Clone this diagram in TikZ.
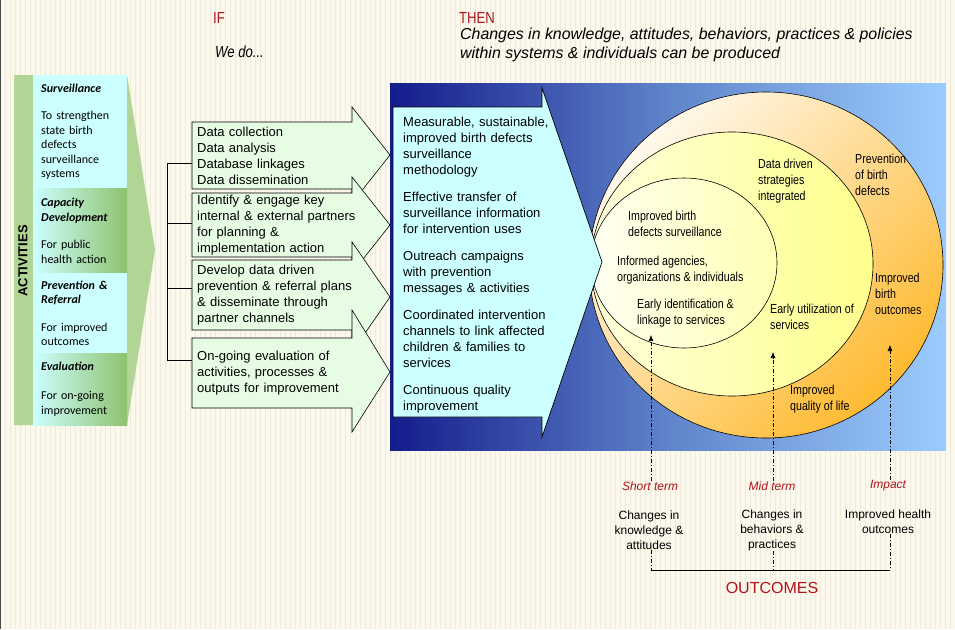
\documentclass[tikz,border=0pt]{standalone}
\usepackage{fontspec}
\setmainfont{Liberation Sans}
\newfontfamily\calibri{Carlito}
\newfontfamily\narrowsans[FakeStretch=0.82]{Liberation Sans}
\usepackage{xcolor}
\usetikzlibrary{shapes,arrows,arrows.meta,positioning,calc}
\definecolor{paper}{HTML}{FBF8EE}
\definecolor{papergrid}{HTML}{F2EAD6}
\definecolor{cyanbox}{HTML}{CCFFFF}
\definecolor{actgreen}{HTML}{8DC26C}
\definecolor{colgreen}{HTML}{B0D595}
\definecolor{ifgreen}{HTML}{E6FDE4}
\definecolor{navyb}{HTML}{141C8C}
\definecolor{midb}{HTML}{5F84CA}
\definecolor{skyb}{HTML}{9CCCFF}
\definecolor{ringorange}{HTML}{FFBA30}
\definecolor{ringcream}{HTML}{FFF8EC}
\definecolor{ringyellow}{HTML}{FFFF8C}
\definecolor{ringlight}{HTML}{FFFFDC}
\definecolor{coreyellow}{HTML}{FFFFB4}
\definecolor{corelight}{HTML}{FFFFF2}
\definecolor{headred}{HTML}{A8181E}
\definecolor{termred}{HTML}{B0141C}
\newcommand{\acthd}[1]{\textbf{\textit{#1}}}

\begin{document}
\begin{tikzpicture}[x=1pt, y=-1pt, >=stealth]
        % Styles
        \tikzstyle{actbox} = [rectangle, anchor=north west, minimum width=94pt, text width=78pt, inner xsep=8pt, inner ysep=0pt, align=left, font=\calibri\fontsize{12}{14.5}\selectfont]
        \tikzstyle{ifshape} = [draw=black, fill=ifgreen, line width=0.6pt, miter limit=20]
        \tikzstyle{ifbox} = [rectangle, anchor=north west, text width=170pt, inner xsep=5pt, inner ysep=0pt, align=left, font=\fontsize{13}{16}\selectfont]
        \tikzstyle{thenshape} = [draw=black, fill=cyanbox, line width=0.7pt, miter limit=20]
        \tikzstyle{ring} = [ellipse, draw=black, line width=0.6pt, inner sep=0pt]
        \tikzstyle{ringtext} = [anchor=north west, inner sep=0pt, align=left, font=\narrowsans\fontsize{13}{16}\selectfont]
        \tikzstyle{headtext} = [anchor=west, inner sep=0pt, text=headred, font=\narrowsans\fontsize{16}{16}\selectfont]
        \tikzstyle{term} = [inner sep=0pt, text=termred, font=\itshape\fontsize{12}{14}\selectfont]
        \tikzstyle{change} = [inner sep=0pt, align=center, font=\fontsize{12}{15}\selectfont]
        \tikzstyle{trace} = [line width=0.6pt, dash pattern=on 4pt off 2pt on 1pt off 2pt]
        \tikzstyle{bus} = [draw, line width=0.7pt]

        % Paper
        \useasboundingbox (0,0) rectangle (955,629);
        \fill[paper] (0,0) rectangle (955,629);
        \draw[papergrid, line width=0.3pt, step=5] (0,0) grid (955,629);
        \draw[black!70, line width=1.2pt] (0.6,0) -- (0.6,629);

        % Outcome panel and rings
        \shade[left color=navyb, right color=skyb, middle color=midb] (390,83) rectangle (946,450);
        \node[ring, minimum width=354pt, minimum height=346pt, top color=ringcream, bottom color=ringorange, shading angle=45] (impact ring) at (766,265) {};
        \node[ring, minimum width=282pt, minimum height=264pt, left color=ringlight, right color=ringyellow] (mid ring) at (732,264) {};
        \node[ring, minimum width=186pt, minimum height=170pt, left color=corelight, right color=coreyellow] (short ring) at (684,263) {};

        \node[ringtext] (bdsurv) at (628,211) {Improved birth\\defects surveillance};
        \node[ringtext] (informed) at (617,256) {Informed agencies,\\organizations \&  individuals};
        \node[ringtext] (earlyid) at (637,299) {Early identification \&\\linkage to services};
        \node[ringtext] (datadriven) at (758,159) {Data driven\\strategies\\integrated};
        \node[ringtext] (prevention) at (855,154) {Prevention\\of birth\\defects};
        \node[ringtext] (earlyuse) at (770,304) {Early utilization of\\services};
        \node[ringtext] (birthout) at (875,273) {Improved\\birth\\outcomes};
        \node[ringtext] (quality) at (790,385) {Improved\\quality of life};

        % THEN arrow
        \filldraw[thenshape] (393,107) -- (542,107) -- (542,88) -- (602,262) -- (542,437) -- (542,417) -- (393,417) -- cycle;
        \node[anchor=north west, inner sep=0pt, text width=150pt, align=left, font=\fontsize{13}{16}\selectfont] (outputs) at (403,117) {Measurable, sustainable,\\improved birth defects\\surveillance\\methodology\\[11pt]
            Effective transfer of\\surveillance information\\for intervention uses\\[11pt]
            Outreach campaigns\\with prevention\\messages \& activities\\[11pt]
            Coordinated intervention\\channels to link affected\\children \& families to\\services\\[11pt]
            Continuous quality\\improvement};

        % Activities column
        \fill[colgreen] (14,75) -- (127,75) -- (155,250) -- (127,425) -- (14,425) -- cycle;
        \node[actbox, fill=cyanbox, minimum height=113pt] (surv) at (33,75) {\acthd{Surveillance}\\[13pt]To strengthen\\state birth\\defects\\surveillance\\systems};
        \node[actbox, left color=cyanbox, right color=actgreen, minimum height=85pt] (capacity) at (33,188) {\acthd{Capacity}\\\acthd{Development}\\[13pt]For public\\health action};
        \node[actbox, fill=cyanbox, minimum height=80pt] (referral) at (33,273) {\acthd{Prevention \&}\\\acthd{Referral}\\[13pt]For improved\\outcomes};
        \node[actbox, left color=cyanbox, right color=actgreen, minimum height=72pt] (evaluation) at (33,353) {\acthd{Evaluation}\\[14.5pt]For on-going\\improvement};
        \node[rotate=90, inner sep=0pt, font=\bfseries\fontsize{13}{13}\selectfont] (activities) at (23,261) {ACTIVITIES};

        % IF arrows
        \filldraw[ifshape] (192,122) -- (352,122) -- (352,107) -- (390,155) -- (352,203) -- (352,189) -- (192,189) -- cycle;
        \node[ifbox, minimum height=67pt] (d1) at (192,122) {Data collection\\Data analysis\\Database linkages\\Data dissemination};
        \filldraw[ifshape] (192,193) -- (352,193) -- (352,177) -- (390,225) -- (352,273) -- (352,257) -- (192,257) -- cycle;
        \node[ifbox, minimum height=64pt] (d2) at (192,193) {Identify \& engage key\\internal \& external partners\\for planning \&\\implementation action};
        \filldraw[ifshape] (192,260) -- (352,260) -- (352,242) -- (390,297) -- (352,352) -- (352,330) -- (192,330) -- cycle;
        \node[ifbox, minimum height=70pt] (d3) at (192,260) {Develop data driven\\prevention \& referral plans\\\& disseminate through\\partner channels};
        \filldraw[ifshape] (192,338) -- (352,338) -- (352,310) -- (390,372) -- (352,432) -- (352,408) -- (192,408) -- cycle;
        \node[ifbox, minimum height=70pt] (d4) at (192,338) {On-going evaluation of\\activities, processes \&\\outputs for improvement};

        % Bus
        \coordinate (bus1) at (167,163);
        \coordinate (bus2) at (167,223);
        \coordinate (bus3) at (167,288);
        \coordinate (bus4) at (167,360);
        \path [bus] (bus1) -- (bus4);
        \path [bus] (bus1) -- (bus1 -| d1.west);
        \path [bus] (bus2) -- (bus2 -| d2.west);
        \path [bus] (bus3) -- (bus3 -| d3.west);
        \path [bus] (bus4) -- (bus4 -| d4.west);

        % Headings
        \node[headtext] (if) at (213,18) {IF};
        \node[anchor=west, inner sep=0pt, font=\narrowsans\itshape\fontsize{16}{16}\selectfont] (wedo) at (215,52) {We do...};
        \node[headtext] (then) at (459,18) {THEN};
        \node[anchor=north west, inner sep=0pt, align=left, font=\itshape\fontsize{15.9}{19}\selectfont] (claim) at (460,28) {Changes in knowledge, attitudes, behaviors, practices \& policies\\within systems \& individuals can be produced};

        % Outcomes
        \node[term] (short) at (650,486) {Short term};
        \node[term] (midterm) at (772,486) {Mid term};
        \node[term] (impact) at (888,486) {Impact};
        \node[change] (know) at (649,530) {Changes in\\knowledge \&\\attitudes};
        \node[change] (behave) at (772,530) {Changes in\\behaviors \&\\practices};
        \node[change] (health) at (888,522) {Improved health\\outcomes};
        \node[inner sep=0pt, text=termred, font=\fontsize{16}{16}\selectfont] (outcomes) at (772,588) {OUTCOMES};

        \coordinate (tip1) at (651,335);
        \coordinate (tip2) at (773,352);
        \coordinate (tip3) at (890,345);
        \coordinate (brk1) at (651,570);
        \coordinate (brk2) at (773,570);
        \coordinate (brk3) at (890,570);
        \draw[trace, -{Latex[length=6pt,width=5pt]}] (tip1 |- short.north) -- (tip1);
        \draw[trace, -{Latex[length=6pt,width=5pt]}] (tip2 |- midterm.north) -- (tip2);
        \draw[trace, -{Latex[length=6pt,width=5pt]}] (tip3 |- impact.north) -- (tip3);
        \draw[trace] (brk1 |- know.south) -- (brk1);
        \draw[trace] (brk2 |- behave.south) -- (brk2);
        \draw[trace] (brk3 |- health.south) -- (brk3);
        \path [bus] (brk1) -- (brk3);
\end{tikzpicture}
\end{document}
